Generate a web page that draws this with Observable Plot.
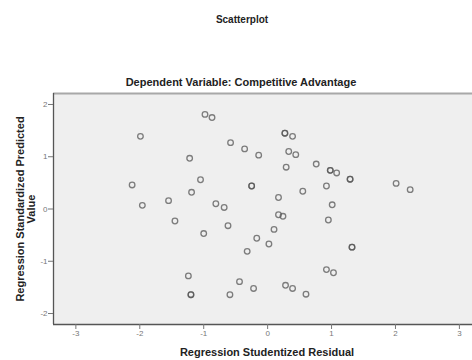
<!DOCTYPE html>
<html>
<head>
<meta charset="utf-8">
<script src="https://cdn.jsdelivr.net/npm/d3@7"></script>
<script src="https://cdn.jsdelivr.net/npm/@observablehq/plot@0.6"></script>
<style>
  body { margin: 0; background: #fff; }
</style>
</head>
<body>
<div id="chart"></div>
<script>
const title = "Scatterplot";
const subtitle = "Dependent Variable: Competitive Advantage";
const xLabel = "Regression Studentized Residual";
const yLabelLines = ["Regression Standardized Predicted", "Value"];
const xTicks = [-3, -2, -1, 0, 1, 2, 3];
const yTicks = [-2, -1, 0, 1, 2];

// Studentized residuals (x) and standardized predicted values (y)
const residual = [
  -1.99, -0.98, -0.87, -0.58, -1.22, -2.12, -1.05, -1.19, -1.96, -1.55,
  -0.81, -0.68, -1.45, -0.62, -0.36, -0.14, 0.27, 0.27, 0.39, 0.33,
  0.44, 0.29, 0.76, 0.98, 0.98, 1.08, 1.29, 1.29, 2.01, 2.23,
  -0.25, -0.25, 0.55, 0.92, 0.17, 1.01, 0.17, 0.24, 0.95, 0.10,
  -1.00, -0.17, 0.02, -0.32, 1.32, 1.32, -1.24, 0.92, 1.03, -0.44,
  -1.20, -1.20, -0.59, -0.22, 0.28, 0.39, 0.60
];
const predicted = [
  1.39, 1.81, 1.75, 1.27, 0.97, 0.46, 0.56, 0.32, 0.07, 0.16,
  0.10, 0.03, -0.23, -0.32, 1.15, 1.03, 1.45, 1.45, 1.39, 1.10,
  1.04, 0.80, 0.86, 0.74, 0.74, 0.69, 0.57, 0.57, 0.49, 0.37,
  0.44, 0.44, 0.34, 0.44, 0.22, 0.08, -0.11, -0.14, -0.21, -0.39,
  -0.47, -0.56, -0.67, -0.81, -0.73, -0.73, -1.28, -1.16, -1.22, -1.39,
  -1.64, -1.64, -1.64, -1.52, -1.46, -1.52, -1.63
];

const points = residual.map((r, i) => ({ residual: r, predicted: predicted[i] }));

const xDomain = [-3.35, 3.205];
const yDomain = [-2.21, 2.21];
const font = "Arial, 'Liberation Sans', sans-serif";

const chart = Plot.plot({
  width: 472,
  height: 360,
  marginLeft: 53,
  marginRight: 0,
  marginTop: 93,
  marginBottom: 36,
  style: { fontFamily: font, background: "#fff", overflow: "visible" },
  x: { domain: xDomain, label: null },
  y: { domain: yDomain, label: null },
  marks: [
    Plot.frame({ fill: "#efefef", stroke: "none" }),
    Plot.ruleY([yDomain[1]], { stroke: "#a8a8a8", strokeWidth: 2 }),
    Plot.ruleX([xDomain[0]], { stroke: "#555", strokeWidth: 1.3 }),
    Plot.ruleY([yDomain[0]], { stroke: "#555", strokeWidth: 1.3 }),
    Plot.axisX({ ticks: xTicks, tickFormat: d => String(d), tickSize: 5, tickPadding: 1, fontSize: 8, stroke: "#777", fill: "#777", label: null }),
    Plot.axisY({ ticks: yTicks, tickFormat: d => String(d), tickSize: 5, tickPadding: 1, fontSize: 8, stroke: "#777", fill: "#777", label: null }),
    Plot.dot(points, {
      x: "residual", y: "predicted", r: 2.8,
      stroke: "#555", strokeOpacity: 0.75, strokeWidth: 1.3, fill: "none"
    }),
    Plot.text([title], { text: d => d, frameAnchor: "top", textAnchor: "middle", dx: -21, dy: -78, fontSize: 10, fontWeight: "bold", fill: "#222" }),
    Plot.text([subtitle], { text: d => d, frameAnchor: "top", textAnchor: "middle", dx: -22, dy: -15, fontSize: 11, fontWeight: "bold", fill: "#222" }),
    Plot.text([xLabel], { text: d => d, frameAnchor: "bottom", textAnchor: "middle", dx: 4, dy: 31, fontSize: 11, fontWeight: "bold", fill: "#222" }),
    Plot.text([yLabelLines[0]], { text: d => d, frameAnchor: "left", textAnchor: "middle", dx: -33, rotate: -90, fontSize: 11, fontWeight: "bold", fill: "#222" }),
    Plot.text([yLabelLines[1]], { text: d => d, frameAnchor: "left", textAnchor: "middle", dx: -22, rotate: -90, fontSize: 11, fontWeight: "bold", fill: "#222" })
  ]
});

document.getElementById("chart").appendChild(chart);
</script>
</body>
</html>
